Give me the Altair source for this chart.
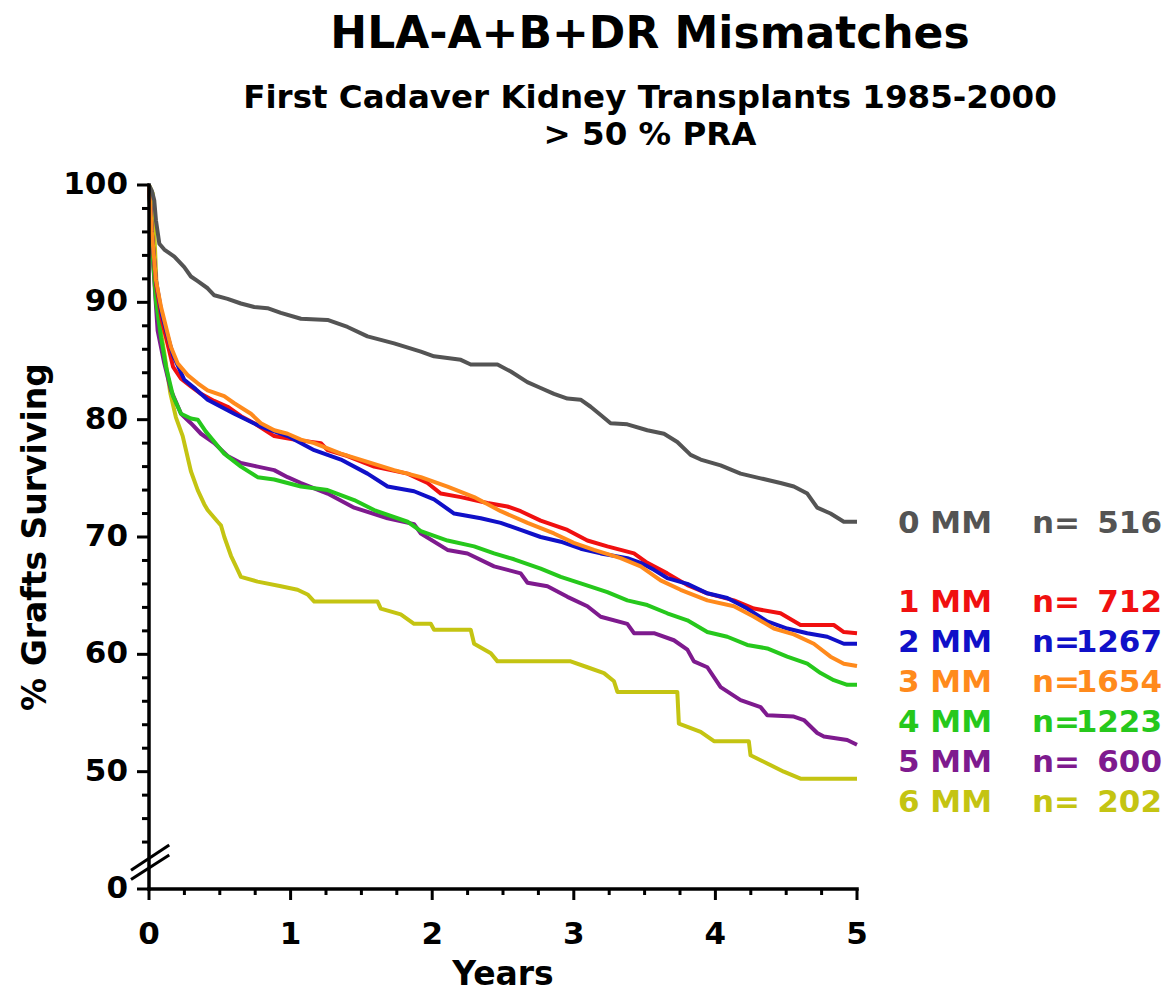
import altair as alt
import pandas as pd

# ---------------- data ----------------
groups = ["0 MM", "1 MM", "2 MM", "3 MM", "4 MM", "5 MM", "6 MM"]
counts = ["516", "712", "1267", "1654", "1223", "600", "202"]
colors = ["#545454", "#f01010", "#1010c8", "#ff8a1c", "#26c81c", "#7e1a8e", "#c4c412"]

title_main = "HLA-A+B+DR Mismatches"
subtitle_lines = ["First Cadaver Kidney Transplants 1985-2000", "> 50 % PRA"]
x_title = "Years"
y_title = "% Grafts Surviving"

# axis ticks (y axis is broken: the lowest tick, drawn at 40, is labelled 0)
y_tick_values = [40, 50, 60, 70, 80, 90, 100]
y_tick_labels = ["0", "50", "60", "70", "80", "90", "100"]
x_tick_values = [0, 1, 2, 3, 4, 5]
x_tick_labels = ["0", "1", "2", "3", "4", "5"]

mm0_x = [0, 0.02, 0.037, 0.049, 0.073, 0.108, 0.179, 0.249, 0.296, 0.344, 0.414, 0.461, 0.555, 0.649,
         0.743, 0.837, 0.931, 1.073, 1.261, 1.402, 1.543, 1.731, 1.92, 2.013, 2.202, 2.272, 2.461, 2.555,
         2.672, 2.766, 2.86, 2.955, 3.048, 3.119, 3.19, 3.26, 3.378, 3.519, 3.637, 3.731, 3.825, 3.896,
         4.037, 4.178, 4.319, 4.46, 4.554, 4.649, 4.719, 4.813, 4.907, 5.0]
mm0_y = [100, 99.5, 98.7, 97.0, 95.0, 94.5, 93.9, 93.0, 92.2, 91.8, 91.2, 90.6, 90.3, 89.9,
         89.6, 89.5, 89.1, 88.6, 88.5, 87.9, 87.1, 86.5, 85.8, 85.4, 85.1, 84.7, 84.7, 84.1,
         83.2, 82.7, 82.2, 81.8, 81.7, 81.1, 80.4, 79.7, 79.6, 79.1, 78.8, 78.1, 77.0, 76.6,
         76.1, 75.4, 75.0, 74.6, 74.3, 73.7, 72.5, 72.0, 71.3, 71.3]

mm1_x = [0, 0.02, 0.05, 0.09, 0.13, 0.17, 0.226, 0.3, 0.367, 0.46, 0.555, 0.65, 0.743, 0.884, 1.025,
         1.214, 1.261, 1.402, 1.59, 1.826, 1.967, 2.061, 2.202, 2.39, 2.531, 2.625, 2.766, 2.955, 3.096,
         3.237, 3.425, 3.519, 3.66, 3.802, 3.943, 4.131, 4.272, 4.46, 4.601, 4.836, 4.907, 5.0]
mm1_y = [100, 96, 91.5, 88.5, 86.5, 84.5, 83.5, 82.8, 82.2, 81.6, 81.1, 80.3, 79.7, 78.6, 78.3,
         78.0, 77.4, 76.9, 76.0, 75.4, 74.6, 73.7, 73.4, 72.9, 72.6, 72.2, 71.4, 70.6, 69.7,
         69.2, 68.6, 67.8, 66.9, 65.9, 65.2, 64.6, 63.9, 63.5, 62.5, 62.5, 61.9, 61.8]

mm2_x = [0, 0.02, 0.05, 0.09, 0.13, 0.17, 0.249, 0.33, 0.414, 0.602, 0.79, 0.979, 1.167, 1.355, 1.543,
         1.685, 1.872, 2.013, 2.155, 2.343, 2.484, 2.625, 2.766, 2.908, 3.049, 3.19, 3.378, 3.472, 3.566,
         3.66, 3.802, 3.943, 4.084, 4.225, 4.366, 4.507, 4.649, 4.79, 4.907, 5.0]
mm2_y = [100, 96, 91.8, 89.0, 87.2, 85.5, 83.4, 82.6, 81.7, 80.5, 79.4, 78.6, 77.4, 76.6, 75.4,
         74.3, 73.9, 73.2, 72.0, 71.6, 71.2, 70.6, 70.0, 69.6, 69.0, 68.6, 68.2, 67.8, 67.2,
         66.5, 66.0, 65.2, 64.8, 63.9, 62.8, 62.2, 61.8, 61.5, 60.9, 60.9]

mm3_x = [0, 0.02, 0.049, 0.085, 0.12, 0.155, 0.202, 0.273, 0.344, 0.414, 0.531, 0.602, 0.72, 0.79,
         0.885, 0.979, 1.073, 1.167, 1.355, 1.543, 1.731, 1.92, 2.108, 2.296, 2.484, 2.673, 2.86, 3.0,
         3.143, 3.331, 3.472, 3.613, 3.754, 3.943, 4.131, 4.272, 4.413, 4.554, 4.695, 4.813, 4.907, 5.0]
mm3_y = [100, 96, 91.9, 89.6, 87.9, 86.2, 84.8, 83.8, 83.1, 82.5, 82.0, 81.4, 80.5, 79.7,
         79.1, 78.8, 78.3, 78.0, 77.1, 76.4, 75.7, 75.1, 74.3, 73.4, 72.2, 71.2, 70.3, 69.5,
         68.9, 68.2, 67.5, 66.3, 65.5, 64.6, 64.1, 63.2, 62.2, 61.7, 60.9, 59.8, 59.2, 59.0]

mm4_x = [0, 0.02, 0.05, 0.085, 0.12, 0.17, 0.226, 0.296, 0.344, 0.4, 0.531, 0.649, 0.767, 0.884,
         1.073, 1.261, 1.449, 1.59, 1.826, 1.92, 2.108, 2.296, 2.437, 2.578, 2.766, 2.908, 3.049,
         3.237, 3.378, 3.519, 3.66, 3.802, 3.943, 4.084, 4.225, 4.366, 4.507, 4.649, 4.743, 4.836,
         4.931, 5.0]
mm4_y = [100, 95, 90, 87, 84.5, 82, 80.5, 80.1, 80.0, 79.0, 77.1, 76.0, 75.1, 74.9,
         74.3, 74.0, 73.15, 72.3, 71.3, 70.5, 69.7, 69.2, 68.6, 68.1, 67.3, 66.6, 66.05,
         65.3, 64.6, 64.2, 63.5, 62.9, 61.9, 61.5, 60.8, 60.5, 59.8, 59.2, 58.4, 57.8,
         57.4, 57.4]

mm5_x = [0, 0.02, 0.061, 0.108, 0.155, 0.226, 0.296, 0.367, 0.461, 0.555, 0.649, 0.767, 0.884, 0.979,
         1.073, 1.261, 1.449, 1.685, 1.872, 1.92, 2.108, 2.249, 2.437, 2.625, 2.673, 2.814, 2.955,
         3.096, 3.19, 3.378, 3.425, 3.566, 3.707, 3.802, 3.848, 3.943, 4.037, 4.178, 4.319, 4.366,
         4.554, 4.625, 4.719, 4.766, 4.931, 5.0]
mm5_y = [100, 95, 87.6, 84.8, 82.5, 80.5, 79.7, 78.8, 78.0, 76.9, 76.3, 76.0, 75.7, 75.1,
         74.6, 73.7, 72.5, 71.6, 71.1, 70.3, 68.9, 68.6, 67.5, 66.9, 66.1, 65.8, 64.9,
         64.1, 63.2, 62.6, 61.8, 61.8, 61.2, 60.4, 59.4, 58.9, 57.2, 56.1, 55.5, 54.8,
         54.7, 54.4, 53.3, 53.0, 52.7, 52.3]

mm6_x = [0, 0.026, 0.061, 0.108, 0.15, 0.19, 0.238, 0.296, 0.344, 0.39, 0.414, 0.485, 0.508, 0.532,
         0.579, 0.626, 0.649, 0.767, 0.932, 1.049, 1.12, 1.167, 1.614, 1.637, 1.778, 1.872, 1.99,
         2.013, 2.272, 2.296, 2.414, 2.461, 2.978, 3.096, 3.213, 3.284, 3.308, 3.731, 3.742, 3.896,
         3.99, 4.236, 4.248, 4.366, 4.483, 4.601, 5.0]
mm6_y = [100, 99.3, 89.2, 85.7, 82.3, 80.2, 78.6, 75.6, 74.0, 72.8, 72.3, 71.3, 71.0, 70.0,
         68.4, 67.2, 66.6, 66.2, 65.8, 65.5, 65.1, 64.5, 64.5, 63.9, 63.4, 62.6, 62.6,
         62.1, 62.1, 60.9, 60.1, 59.4, 59.4, 58.9, 58.4, 57.7, 56.8, 56.8, 54.1, 53.4,
         52.6, 52.6, 51.4, 50.7, 50.0, 49.4, 49.4]

series_x = [mm0_x, mm1_x, mm2_x, mm3_x, mm4_x, mm5_x, mm6_x]
series_y = [mm0_y, mm1_y, mm2_y, mm3_y, mm4_y, mm5_y, mm6_y]

# ---------------- layout constants ----------------
FONT = "DejaVu Sans"
W, H = 708, 704           # plot area
PAD_L, PAD_T = 141, 177   # places plot origin at page (149, 185)
Y_LO, Y_HI = 40, 100      # display range; 40 is the broken-axis "0"
X_LO, X_HI = 0, 5
px_per_unit = H / (Y_HI - Y_LO)
BOTTOM_PAGE = 8 + PAD_T + H

draw_order = [6, 5, 4, 1, 2, 3, 0]
rows = []
for i in draw_order:
    for xv, yv in zip(series_x[i], series_y[i]):
        rows.append({"group": groups[i], "year": xv, "surv": yv})
df = pd.DataFrame(rows)

color_scale = alt.Scale(domain=groups, range=colors)
x_scale = alt.Scale(domain=[X_LO, X_HI], nice=False, zero=False)
y_scale = alt.Scale(domain=[Y_LO, Y_HI], nice=False, zero=False)

y_minor = [v for v in range(44, 101, 2) if v % 10 != 0]
x_minor = [i * 0.25 for i in range(21) if i % 4 != 0]

lines = alt.Chart(df).mark_line(strokeWidth=4, strokeJoin="round").encode(
    x=alt.X("year:Q", scale=x_scale, axis=None),
    y=alt.Y("surv:Q", scale=y_scale, axis=None),
    color=alt.Color("group:N", scale=color_scale, legend=None),
)

# ---------------- hand-drawn axes (through the chart's scales) ----------------
AX = dict(color="black")
y_domain = alt.Chart(pd.DataFrame({"a": [Y_LO], "b": [Y_HI]})).mark_rule(
    strokeWidth=3.5, strokeCap="square", **AX).encode(
    x=alt.value(0), y=alt.Y("a:Q", axis=None), y2="b:Q")
x_domain = alt.Chart(pd.DataFrame({"a": [X_LO], "b": [X_HI]})).mark_rule(
    strokeWidth=3.5, strokeCap="square", **AX).encode(
    y=alt.value(H), x=alt.X("a:Q", axis=None), x2="b:Q")

y_major_ticks = alt.Chart(pd.DataFrame({"v": y_tick_values})).mark_rule(strokeWidth=3, **AX).encode(
    y=alt.Y("v:Q", axis=None), x=alt.value(-12), x2=alt.value(0))
x_major_ticks = alt.Chart(pd.DataFrame({"v": x_tick_values})).mark_rule(strokeWidth=3, **AX).encode(
    x=alt.X("v:Q", axis=None), y=alt.value(H), y2=alt.value(H + 11))
y_minor_ticks = alt.Chart(pd.DataFrame({"v": y_minor})).mark_rule(strokeWidth=3, **AX).encode(
    y=alt.Y("v:Q", axis=None), x=alt.value(-7), x2=alt.value(0))
x_minor_ticks = alt.Chart(pd.DataFrame({"v": x_minor})).mark_rule(strokeWidth=3, **AX).encode(
    x=alt.X("v:Q", axis=None), y=alt.value(H), y2=alt.value(H + 6))

LBL = dict(font=FONT, fontWeight="bold", fontSize=31, color="black")
y_labels = alt.Chart(pd.DataFrame({"v": y_tick_values, "t": y_tick_labels})).mark_text(
    align="right", baseline="middle", **LBL).encode(
    y=alt.Y("v:Q", axis=None), x=alt.value(-21), text="t:N")
x_labels = alt.Chart(pd.DataFrame({"v": x_tick_values, "t": x_tick_labels})).mark_text(
    align="center", baseline="top", **LBL).encode(
    x=alt.X("v:Q", axis=None), y=alt.value(H + 31), text="t:N")

TTL = dict(font=FONT, fontWeight="bold", fontSize=33, color="black")
x_title_layer = alt.Chart(pd.DataFrame({"t": [x_title]})).mark_text(
    align="center", baseline="alphabetic", **TTL).encode(
    text="t:N", x=alt.value(W / 2), y=alt.value(H + 96))
y_title_layer = alt.Chart(pd.DataFrame({"t": [y_title]})).mark_text(
    align="center", baseline="alphabetic", angle=270, **TTL).encode(
    text="t:N", x=alt.value(-103), y=alt.value(H / 2))

# axis-break marks (two short diagonal strokes across the y axis)
brk = pd.DataFrame({"bx": [-0.127, -0.127], "by": [41.6, 40.8],
                    "bx2": [0.143, 0.143], "by2": [43.75, 42.9]})
breaks = alt.Chart(brk).mark_rule(color="black", strokeWidth=3).encode(
    x=alt.X("bx:Q", axis=None), y=alt.Y("by:Q", axis=None),
    x2="bx2:Q", y2="by2:Q",
)

# ---------------- titles ----------------
CX = 650 - 8 - PAD_L
title_layer = alt.Chart(pd.DataFrame({"t": [title_main]})).mark_text(
    font=FONT, fontWeight="bold", fontSize=44, align="center", baseline="alphabetic", color="black"
).encode(text="t:N", x=alt.value(CX), y=alt.value(-137))
sub1 = alt.Chart(pd.DataFrame({"t": [subtitle_lines[0]]})).mark_text(
    font=FONT, fontWeight="bold", fontSize=32.5, align="center", baseline="alphabetic", color="black"
).encode(text="t:N", x=alt.value(CX), y=alt.value(-77))
sub2 = alt.Chart(pd.DataFrame({"t": [subtitle_lines[1]]})).mark_text(
    font=FONT, fontWeight="bold", fontSize=32.5, align="center", baseline="alphabetic", color="black"
).encode(text="t:N", x=alt.value(CX), y=alt.value(-40))

# ---------------- right-hand labels (legend) ----------------
baselines_px = [533] + [612 + 40 * (i - 1) for i in range(1, 7)]   # page pixel baselines
leg = pd.DataFrame({
    "group": groups,
    "neq": ["n="] * len(groups),
    "num": counts,
    "ly": [Y_LO + (BOTTOM_PAGE - b) / px_per_unit for b in baselines_px],
})
leg_common = dict(font=FONT, fontWeight="bold", fontSize=31, baseline="alphabetic")
leg_y = alt.Y("ly:Q", axis=None)
leg_c = alt.Color("group:N", scale=color_scale, legend=None)
leg1 = alt.Chart(leg).mark_text(align="left", **leg_common).encode(
    text="group:N", x=alt.value(898 - 8 - PAD_L), y=leg_y, color=leg_c)
leg2 = alt.Chart(leg).mark_text(align="left", **leg_common).encode(
    text="neq:N", x=alt.value(1032 - 8 - PAD_L), y=leg_y, color=leg_c)
leg3 = alt.Chart(leg).mark_text(align="right", **leg_common).encode(
    text="num:N", x=alt.value(1162 - 8 - PAD_L), y=leg_y, color=leg_c)

chart = alt.layer(
    lines, y_domain, x_domain, y_major_ticks, x_major_ticks, y_minor_ticks, x_minor_ticks,
    y_labels, x_labels, x_title_layer, y_title_layer, breaks,
    title_layer, sub1, sub2, leg1, leg2, leg3,
).properties(
    width=W, height=H,
    autosize=alt.AutoSizeParams(type="none"),
    padding={"left": PAD_L, "top": PAD_T, "right": 1155 - W - PAD_L, "bottom": 986 - H - PAD_T},
    background="white",
).configure_view(stroke=None)

chart.save("out.html", embed_options={"renderer": "svg", "actions": False})
